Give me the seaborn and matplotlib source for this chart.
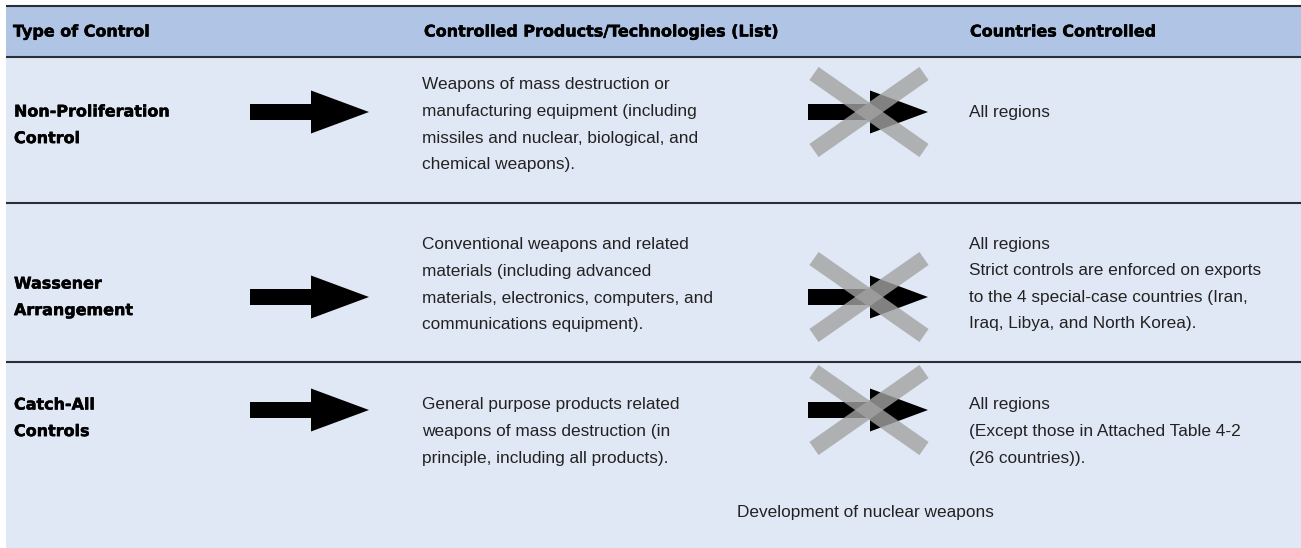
import matplotlib
matplotlib.use("Agg")
import matplotlib.pyplot as plt
import matplotlib.patheffects as pe
import seaborn as sns
from matplotlib.patches import Rectangle

# ---------------- data ----------------
headers = ["Type of Control", "Controlled Products/Technologies (List)", "Countries Controlled"]
control_types = [["Non-Proliferation", "Control"],
                 ["Wassener", "Arrangement"],
                 ["Catch-All", "Controls"]]
products = [["Weapons of mass destruction or",
             "manufacturing equipment (including",
             "missiles and nuclear, biological, and",
             "chemical weapons)."],
            ["Conventional weapons and related",
             "materials (including advanced",
             "materials, electronics, computers, and",
             "communications equipment)."],
            ["General purpose products related",
             "weapons of mass destruction (in",
             "principle, including all products)."]]
countries = [["All regions"],
             ["All regions",
              "Strict controls are enforced on exports",
              "to the 4 special-case countries (Iran,",
              "Iraq, Libya, and North Korea)."],
             ["All regions",
              "(Except those in Attached Table 4-2",
              "(26 countries))."]]
note = "Development of nuclear weapons"

# ---------------- layout ----------------
W, H = 1301, 548
sns.set_theme(style="white")
plt.rcParams["font.family"] = ["Liberation Sans", "DejaVu Sans"]

fig = plt.figure(figsize=(W / 100, H / 100), dpi=100)
ax = fig.add_axes([0, 0, 1, 1])
ax.set_xlim(0, W)
ax.set_ylim(H, 0)
ax.axis("off")

header_col = "#B0C4E6"
body_col = "#E1E8F5"
line_col = "#2A2E35"
text_col = "#222222"

left = 6
ax.add_patch(Rectangle((left, 6), W - left, 51, facecolor=header_col, edgecolor="none"))
ax.add_patch(Rectangle((left, 57), W - left, H - 57, facecolor=body_col, edgecolor="none"))
for y in [5.5, 57, 203, 362]:
    ax.plot([left, W], [y, y], color=line_col, lw=1.5, solid_capstyle="butt")

heavy = [pe.withStroke(linewidth=0.35, foreground="black")]
bold_font = dict(family="DejaVu Sans", fontweight="bold", fontsize=11.5, color="black",
                 path_effects=heavy)
body_font = dict(fontsize=12.4, color=text_col)

header_x = [13, 424, 970]
for hx, h in zip(header_x, headers):
    ax.text(hx, 32, h, va="center", ha="left", **bold_font)

spacing = 26.6
label_y = [112, 284, 405]
prod_y = [85, 245, 405]
country_y = [112, 244, 405]
arrow_y = [112, 297, 410]

for i in range(3):
    for j, s in enumerate(control_types[i]):
        ax.text(14, label_y[i] + j * spacing, s, va="center", ha="left", **bold_font)
    for j, s in enumerate(products[i]):
        ax.text(422, prod_y[i] + j * spacing, s, va="center", ha="left", **body_font)
    for j, s in enumerate(countries[i]):
        ax.text(969, country_y[i] + j * spacing, s, va="center", ha="left", **body_font)

    ay = arrow_y[i]
    # plain arrow
    ax.arrow(250, ay, 119, 0, width=16, head_width=43, head_length=58,
             length_includes_head=True, color="black", lw=0)
    # crossed arrow
    ax.arrow(808, ay, 120, 0, width=16, head_width=43, head_length=58,
             length_includes_head=True, color="black", lw=0)
    cx, cy = 869, ay
    for sgn in (1, -1):
        ax.plot([cx - 55, cx + 55], [cy - sgn * 38.5, cy + sgn * 38.5],
                color="#A2A2A2", alpha=0.8, lw=11.5, solid_capstyle="butt")

ax.text(737, 512, note, va="center", ha="left", **body_font)

fig.savefig("out.png", dpi=100, facecolor="white")
